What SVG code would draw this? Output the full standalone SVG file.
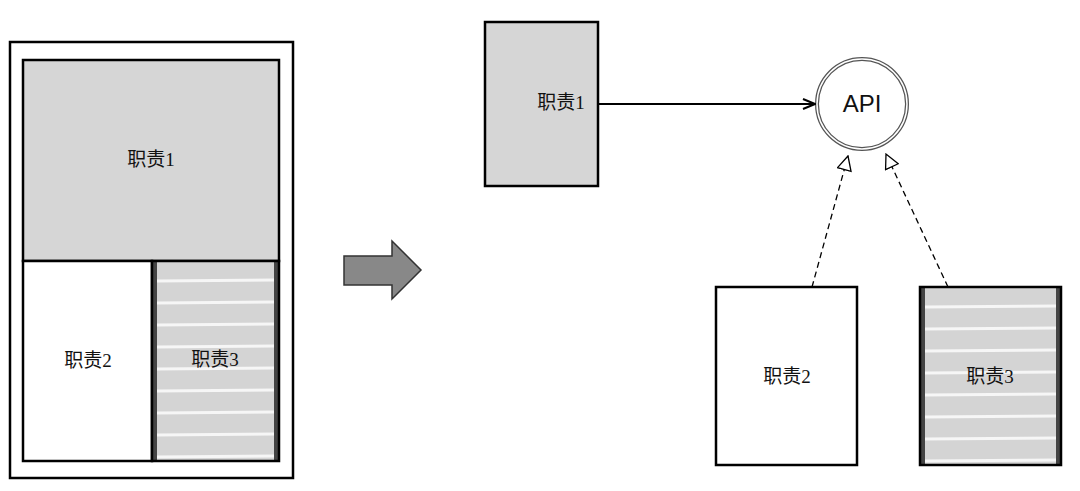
<svg xmlns="http://www.w3.org/2000/svg" width="1080" height="491" viewBox="0 0 1080 491">
<style>
text{font-family:"Liberation Serif","Noto Sans CJK SC",serif;font-size:19px;text-anchor:middle;dominant-baseline:middle;fill:#111}
.b{stroke:#000;stroke-width:2.5}
.s{fill:#d4d4d4}
.w{stroke:#f6f6f6;stroke-width:3}
</style>
<defs>
<marker id="ah" markerWidth="14" markerHeight="12" refX="13" refY="6" orient="auto" markerUnits="userSpaceOnUse"><path d="M1,1 L13,6 L1,11" fill="none" stroke="#000" stroke-width="2"/></marker>
<marker id="tri" markerWidth="16" markerHeight="16" refX="15" refY="8" orient="auto" markerUnits="userSpaceOnUse"><path d="M1,1 L15,8 L1,15 Z" fill="#fff" stroke="#000" stroke-width="1.3"/></marker>
<pattern id="stripes" x="152" y="261" width="127" height="22" patternUnits="userSpaceOnUse">
<rect width="127" height="22" fill="#444"/>
<rect x="5" y="0" width="117" height="22" class="s"/>
<line x1="5" y1="20" x2="122" y2="19" class="w"/>
</pattern>
<pattern id="stripes2" x="920" y="287" width="141" height="22" patternUnits="userSpaceOnUse">
<rect width="141" height="22" fill="#444"/>
<rect x="5" y="0" width="131" height="22" class="s"/>
<line x1="5" y1="20" x2="136" y2="19" class="w"/>
</pattern>
</defs>
<g id="left">
<rect x="10" y="42" width="283" height="436" fill="#fff" class="b"/>
<g id="l1"><rect x="23" y="60" width="256" height="201" fill="#d6d6d6" class="b"/><text x="151" y="162">职责1</text></g>
<g id="l2"><rect x="23" y="261" width="129" height="200" fill="#fff" class="b"/><text x="88" y="363">职责2</text></g>
<g id="l3"><rect x="152" y="261" width="127" height="200" fill="url(#stripes)" class="b"/><text x="215" y="362">职责3</text></g>
</g>
<g id="bigarrow"><path d="M344,256 H392 V241 L421,270 L392,299 V285 H344 Z" fill="#888" stroke="#333" stroke-width="1.5"/></g>
<g id="r1"><rect x="485" y="22" width="113" height="164" fill="#d6d6d6" class="b"/><text x="561" y="105">职责1</text></g>
<g id="api"><circle cx="862" cy="104" r="45" fill="#fff" stroke="#555" stroke-width="4"/><circle cx="862" cy="104" r="45" fill="none" stroke="#fff" stroke-width="1.5"/><text x="862" y="106" style="font-family:'Liberation Sans',sans-serif;font-size:24px">API</text></g>
<g id="r2"><rect x="716" y="287" width="141" height="178" fill="#fff" class="b"/><text x="787" y="379">职责2</text></g>
<g id="r3"><rect x="920" y="287" width="141" height="178" fill="url(#stripes2)" class="b"/><text x="990" y="379">职责3</text></g>
<g id="connectors" fill="none" stroke="#000">
<line x1="598" y1="104" x2="815" y2="104" stroke-width="2" marker-end="url(#ah)"/>
<line x1="812" y1="287" x2="848" y2="156" stroke-width="1.3" stroke-dasharray="6,4" marker-end="url(#tri)"/>
<line x1="948" y1="287" x2="886" y2="154" stroke-width="1.3" stroke-dasharray="6,4" marker-end="url(#tri)"/>
</g>
</svg>
